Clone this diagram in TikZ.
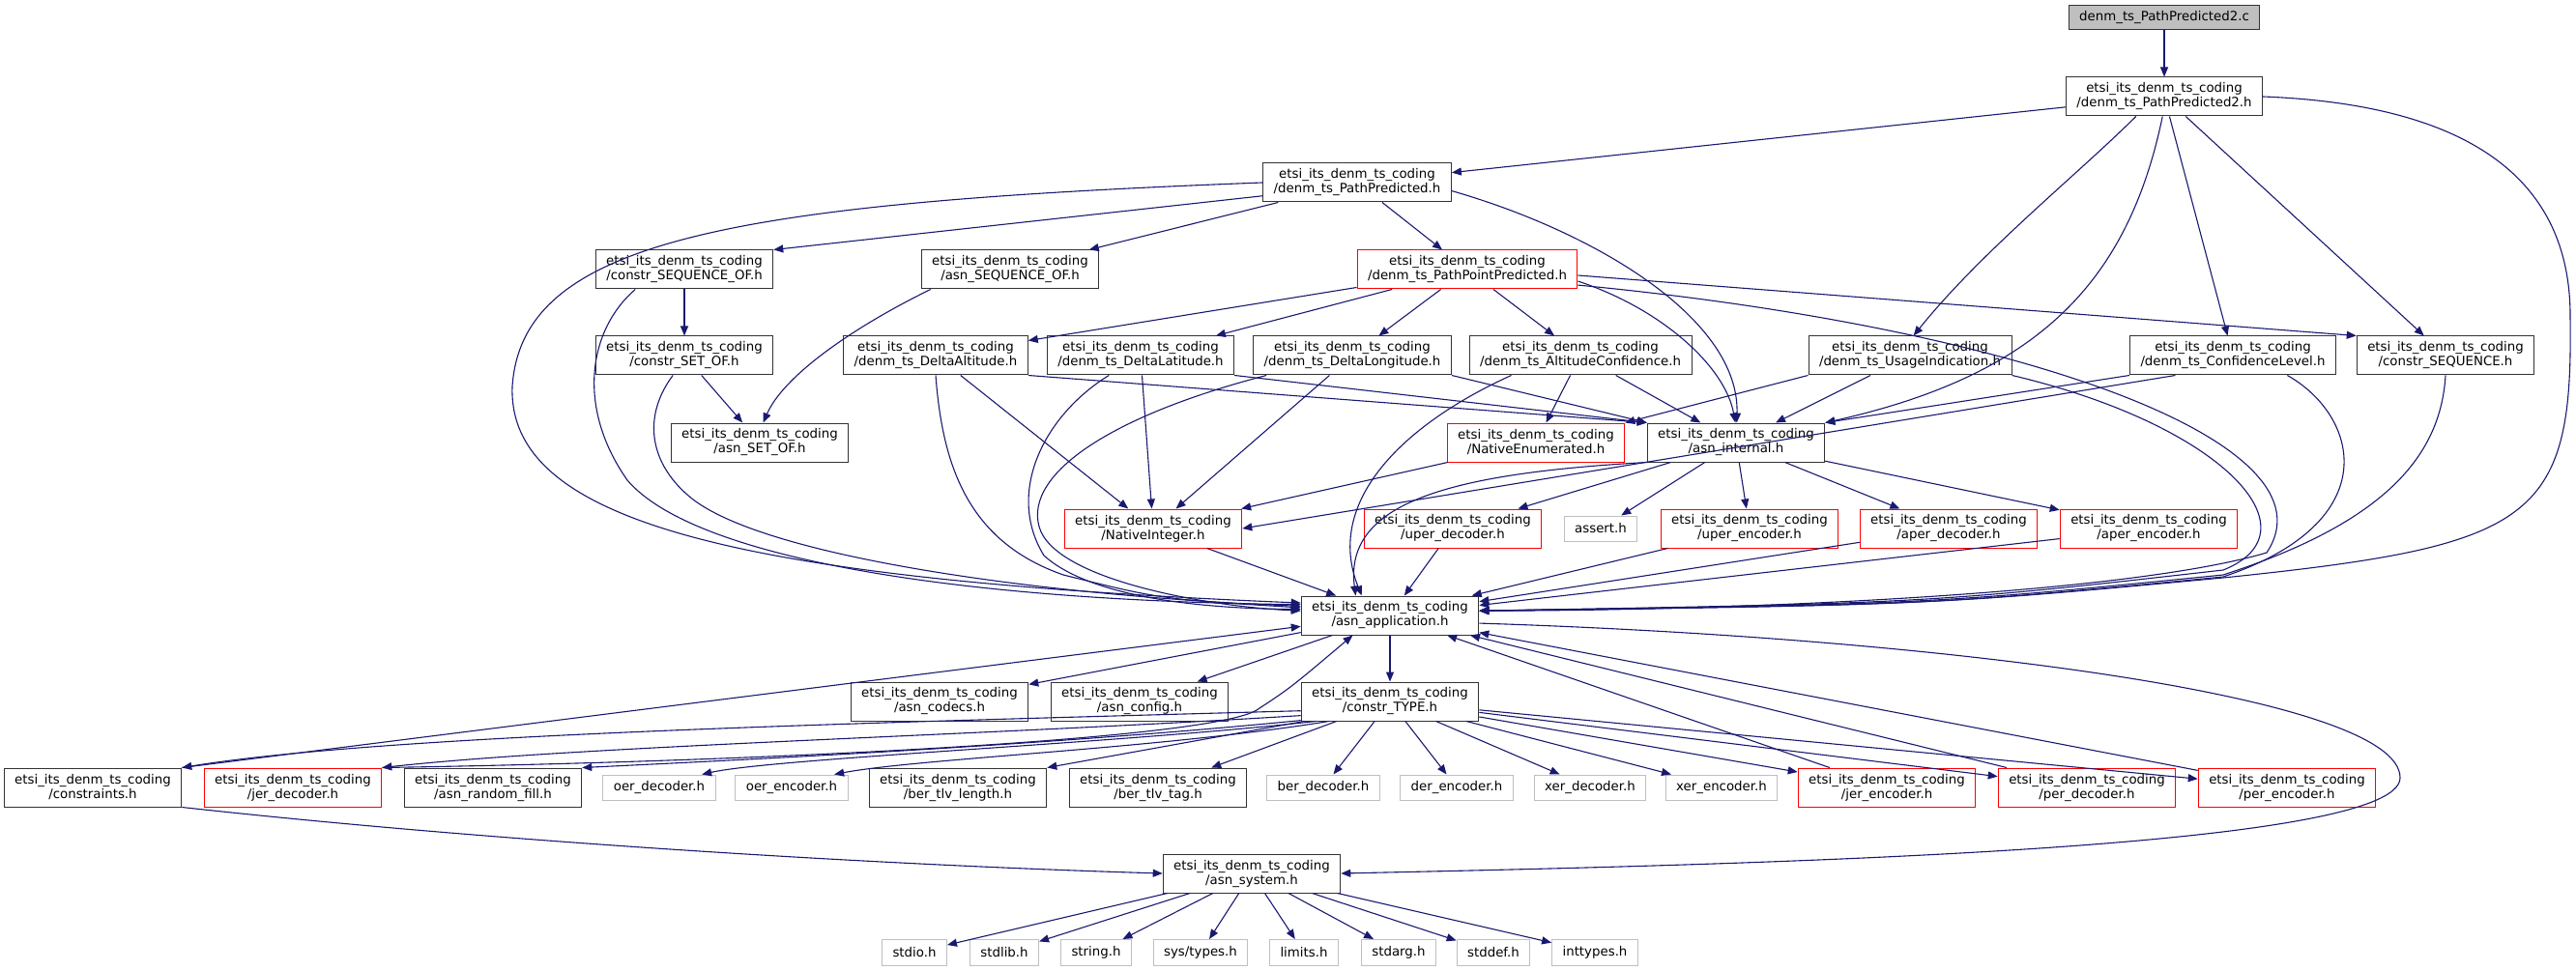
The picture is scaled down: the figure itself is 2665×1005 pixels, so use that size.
\documentclass[tikz,border=0pt]{standalone}
\usepackage{fontspec}
\setmainfont{DejaVu Sans}
\usetikzlibrary{arrows.meta}
\definecolor{edgeblue}{HTML}{191970}
\newcommand{\Ipkg}{etsi\_its\_denm\_ts\_coding}
\newcommand{\incl}[2]{\foreach \src in {#1}{\foreach \dst in {#2}{\draw[inc] (\src) -- (\dst);}}}
\tikzstyle{hdr} = [draw=black!80, fill=white, align=center, inner xsep=5.5pt, inner ysep=0pt, minimum height=20pt, line width=0.5pt, font=\fontsize{6.67}{7.5}\selectfont]
\tikzstyle{trunc} = [hdr, draw=red]
\tikzstyle{extern} = [hdr, draw=black!25, minimum height=13pt]
\tikzstyle{root} = [hdr, fill=black!25, minimum height=12.5pt]

\begin{document}
\begin{tikzpicture}[x=0.5pt, y=-0.5pt, inc/.style={draw=edgeblue, line width=0.55pt, -{Triangle[length=5pt,width=4pt]}}]
\useasboundingbox (0,0) rectangle (2665,1005);

% Define nodes
\node[root]   (c2)       at (2239,18)  {denm\_ts\_PathPredicted2.c};
\node[hdr]    (pp2h)     at (2239,100) {\Ipkg\\/denm\_ts\_PathPredicted2.h};
\node[hdr]    (pph)      at (1404,189) {\Ipkg\\/denm\_ts\_PathPredicted.h};
\node[hdr]    (cso)      at (708,279)  {\Ipkg\\/constr\_SEQUENCE\_OF.h};
\node[hdr]    (aso)      at (1045,279) {\Ipkg\\/asn\_SEQUENCE\_OF.h};
\node[trunc]  (ppp)      at (1518,279) {\Ipkg\\/denm\_ts\_PathPointPredicted.h};
\node[hdr]    (csetof)   at (708,368)  {\Ipkg\\/constr\_SET\_OF.h};
\node[hdr]    (dalt)     at (968,368)  {\Ipkg\\/denm\_ts\_DeltaAltitude.h};
\node[hdr]    (dlat)     at (1180,368) {\Ipkg\\/denm\_ts\_DeltaLatitude.h};
\node[hdr]    (dlon)     at (1399,368) {\Ipkg\\/denm\_ts\_DeltaLongitude.h};
\node[hdr]    (aconf)    at (1635,368) {\Ipkg\\/denm\_ts\_AltitudeConfidence.h};
\node[hdr]    (usage)    at (1976,368) {\Ipkg\\/denm\_ts\_UsageIndication.h};
\node[hdr]    (conf)     at (2310,368) {\Ipkg\\/denm\_ts\_ConfidenceLevel.h};
\node[hdr]    (cseq)     at (2530,368) {\Ipkg\\/constr\_SEQUENCE.h};
\node[hdr]    (asetof)   at (786,458)  {\Ipkg\\/asn\_SET\_OF.h};
\node[trunc]  (nenum)    at (1589,458) {\Ipkg\\/NativeEnumerated.h};
\node[hdr]    (internal) at (1796,458) {\Ipkg\\/asn\_internal.h};
\node[trunc]  (nint)     at (1193,547) {\Ipkg\\/NativeInteger.h};
\node[trunc]  (uperdec)  at (1503,547) {\Ipkg\\/uper\_decoder.h};
\node[extern] (assert)   at (1656,547) {assert.h};
\node[trunc]  (uperenc)  at (1810,547) {\Ipkg\\/uper\_encoder.h};
\node[trunc]  (aperdec)  at (2016,547) {\Ipkg\\/aper\_decoder.h};
\node[trunc]  (aperenc)  at (2223,547) {\Ipkg\\/aper\_encoder.h};
\node[hdr]    (app)      at (1438,637) {\Ipkg\\/asn\_application.h};
\node[hdr]    (codecs)   at (972,726)  {\Ipkg\\/asn\_codecs.h};
\node[hdr]    (config)   at (1179,726) {\Ipkg\\/asn\_config.h};
\node[hdr]    (ctype)    at (1438,726) {\Ipkg\\/constr\_TYPE.h};
\node[hdr]    (constr)   at (96,815)   {\Ipkg\\/constraints.h};
\node[trunc]  (jerdec)   at (303,815)  {\Ipkg\\/jer\_decoder.h};
\node[hdr]    (rfill)    at (510,815)  {\Ipkg\\/asn\_random\_fill.h};
\node[extern] (oerdec)   at (682,815)  {oer\_decoder.h};
\node[extern] (oerenc)   at (819,815)  {oer\_encoder.h};
\node[hdr]    (tlvlen)   at (991,815)  {\Ipkg\\/ber\_tlv\_length.h};
\node[hdr]    (tlvtag)   at (1198,815) {\Ipkg\\/ber\_tlv\_tag.h};
\node[extern] (berdec)   at (1369,815) {ber\_decoder.h};
\node[extern] (derenc)   at (1507,815) {der\_encoder.h};
\node[extern] (xerdec)   at (1645,815) {xer\_decoder.h};
\node[extern] (xerenc)   at (1781,815) {xer\_encoder.h};
\node[trunc]  (jerenc)   at (1952,815) {\Ipkg\\/jer\_encoder.h};
\node[trunc]  (perdec)   at (2159,815) {\Ipkg\\/per\_decoder.h};
\node[trunc]  (perenc)   at (2366,815) {\Ipkg\\/per\_encoder.h};
\node[hdr]    (system)   at (1295,904) {\Ipkg\\/asn\_system.h};

\node[extern, minimum height=13.5pt] (stdio)    at (946,986)  {stdio.h};
\node[extern, minimum height=13.5pt] (stdlib)   at (1039,986) {stdlib.h};
\node[extern, minimum height=13.5pt] (string)   at (1134,986) {string.h};
\node[extern, minimum height=13.5pt] (systypes) at (1242,986) {sys/types.h};
\node[extern, minimum height=13.5pt] (limits)   at (1349,986) {limits.h};
\node[extern, minimum height=13.5pt] (stdarg)   at (1447,986) {stdarg.h};
\node[extern, minimum height=13.5pt] (stddef)   at (1545,986) {stddef.h};
\node[extern, minimum height=13.5pt] (inttypes) at (1650,986) {inttypes.h};

% Edges
\incl {c2} {pp2h};%
\incl {pp2h} {pph, conf, cseq};%
\incl {pph} {aso, ppp};%
\incl {cso} {csetof};%
\incl {csetof} {asetof};%
\incl {ppp} {dalt, dlat, dlon, aconf};%
\incl {dalt, dlat, dlon} {nint};%
\incl {aconf} {nenum, internal};%
\incl {usage} {internal};%
\incl {nenum} {nint};%
\incl {internal} {uperdec, assert, uperenc, aperdec, aperenc};%
\incl {nint, uperdec, uperenc, aperdec, aperenc, jerenc, perdec, perenc} {app};%
\incl {app} {codecs, config, ctype};%
\incl {ctype} {tlvtag, berdec, derenc, xerdec, xerenc, jerenc, perdec, perenc};%
\incl {system} {stdio, stdlib, string, systypes, limits, stdarg, stddef, inttypes};%

\draw[inc] (pph.188) -- (cso.north east);
\draw[inc] (ppp.-3) -- (cseq.north west);
\draw[inc] (dalt.south east) -- (internal.north west);
\draw[inc] (dlat.south east) -- (internal.north west);
\draw[inc] (dlon.south east) -- (internal.north west);
\draw[inc] (usage.south west) -- (nenum.north east);
\draw[inc] (conf.south west) -- (internal.north east);
\draw[inc] (conf.199) -- (nint.east);
\draw[inc] (constr.north east) -- (app.187);
\draw[inc] (ctype.193) -- (tlvlen.north east);

% the long ways round
\draw[inc] (pph.west) .. controls (750,210) and (540,250) .. (530,400) .. controls (525,540) and (760,600) .. (app.172);
\draw[inc] (cso.202) .. controls (610,340) and (595,420) .. (649,497) .. controls (720,580) and (1000,622) .. (app.173);
\draw[inc] (csetof.240) .. controls (665,430) and (670,480) .. (717,517) .. controls (800,580) and (1100,618) .. (app.174);
\draw[inc] (dalt.south) .. controls (975,480) and (1000,560) .. (1100,595) .. controls (1200,620) .. (app.175);
\draw[inc] (dlat.212) .. controls (1080,430) and (1040,510) .. (1080,575) .. controls (1130,620) and (1250,630) .. (app.176);
\draw[inc] (dlon.193) .. controls (1150,430) and (1060,490) .. (1075,545) .. controls (1090,600) and (1250,628) .. (app.177);
\draw[inc] (aconf.196) .. controls (1450,440) and (1370,520) .. (app.145);
\draw[inc] (internal.south west) .. controls (1500,490) and (1390,520) .. (app.150);
\draw[inc] (pph.-5) .. controls (1650,240) and (1800,330) .. (internal.88);
\draw[inc] (ppp.-6) .. controls (1720,320) and (1785,380) .. (internal.92);
\draw[inc] (pp2h.265) .. controls (2200,300) and (2100,390) .. (internal.north east);
\draw[inc] (pp2h.215) .. controls (2150,180) and (2050,260) .. (usage.80);
\draw[inc] (aso.194) .. controls (880,340) and (810,390) .. (asetof.80);

\draw[inc] (ppp.-8) .. controls (2100,340) and (2420,460) .. (2345,572) .. controls (2200,615) and (1800,632) .. (app.3);
\draw[inc] (usage.south east) .. controls (2300,440) and (2400,550) .. (2300,590) .. controls (2000,624) .. (app.3);
\draw[inc] (conf.-20) .. controls (2440,430) and (2470,540) .. (2300,597) .. controls (2000,626) .. (app.3);
\draw[inc] (cseq.south) .. controls (2525,470) and (2470,540) .. (2300,595) .. controls (2000,625) .. (app.3);
\draw[inc] (pp2h.east) .. controls (2600,110) and (2660,220) .. (2659,330) .. controls (2662,540) and (2620,565) .. (2300,598) .. controls (2000,626) .. (app.3);

\draw[inc] (app.-5) .. controls (2000,660) and (2483,720) .. (2483,805) .. controls (2483,880) and (1800,895) .. (system.east);
\draw[inc] (constr.south east) .. controls (500,870) and (900,895) .. (system.west);

\draw[inc] (ctype.186) .. controls (900,748) and (400,760) .. (constr.north east);
\draw[inc] (ctype.189) .. controls (1000,762) and (600,772) .. (jerdec.north east);
\draw[inc] (jerdec.north east) .. controls (800,788) and (1250,765) .. (1300,735) .. controls (1335,712) .. (app.208);
\draw[inc] (ctype.192) .. controls (1100,770) and (800,785) .. (rfill.north east);
\draw[inc] (ctype.195) .. controls (1150,770) and (800,785) .. (oerdec.17);
\draw[inc] (ctype.198) .. controls (1200,775) and (950,785) .. (oerenc.17);
\end{tikzpicture}
\end{document}
